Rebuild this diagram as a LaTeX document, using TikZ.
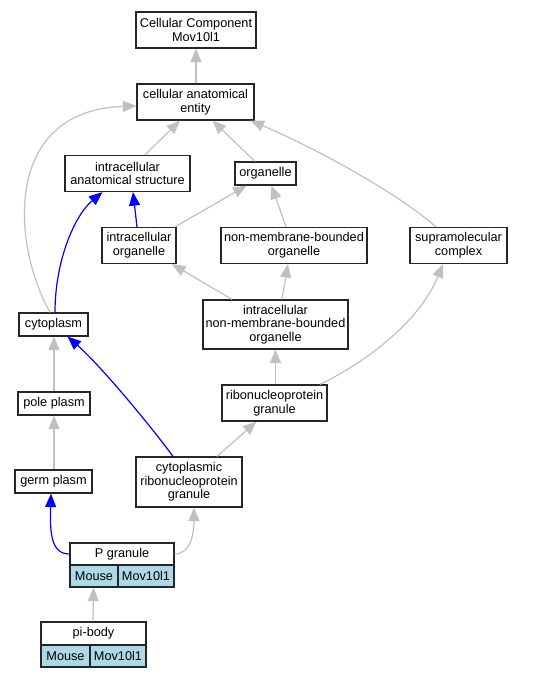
\documentclass[tikz,border=0pt]{standalone}
\usepackage{fontspec}
\setmainfont{Liberation Sans}
\usetikzlibrary{arrows.meta}
\definecolor{edgegray}{RGB}{192,192,192}
\definecolor{cellblue}{RGB}{173,216,230}
\begin{document}
\begin{tikzpicture}[x=1pt,y=-1pt,
  box/.style={draw=black!85,line width=1.2pt,fill=white,rectangle,inner sep=0pt,align=center,
    font=\fontsize{12.7}{13.6}\selectfont},
  cell/.style={box,fill=cellblue},
  gedge/.style={draw=edgegray,line width=1.2pt,-{Triangle[length=13.5pt,width=11pt]}},
  bedge/.style={draw=blue,line width=1.2pt,-{Triangle[length=13.5pt,width=11pt]}}]
\useasboundingbox (0,0) rectangle (536,677);
% nodes
\node[box,minimum width=120pt,minimum height=36pt] (cc) at (196,30) {Cellular Component\\Mov10l1};
\node[box,minimum width=117pt,minimum height=36pt] (cae) at (195.5,102) {cellular anatomical\\entity};
\node[box,minimum width=125pt,minimum height=36pt] (ias) at (127.5,173.5) {intracellular\\anatomical structure};
\node[box,minimum width=61pt,minimum height=23pt] (org) at (265.5,173.5) {organelle};
\node[box,minimum width=74pt,minimum height=36pt] (io) at (139,245.5) {intracellular\\organelle};
\node[box,minimum width=146pt,minimum height=36pt] (nmbo) at (294,245.5) {non-membrane-bounded\\organelle};
\node[box,minimum width=97pt,minimum height=36pt] (sup) at (458.5,245.5) {supramolecular\\complex};
\node[box,minimum width=69pt,minimum height=23pt] (cyto) at (53.5,324.5) {cytoplasm};
\node[box,minimum width=145pt,minimum height=49pt] (inmbo) at (275.5,324.5) {intracellular\\non-membrane-bounded\\organelle};
\node[box,minimum width=72pt,minimum height=23pt] (pp) at (54,403.5) {pole plasm};
\node[box,minimum width=105pt,minimum height=36pt] (rng) at (274.5,403) {ribonucleoprotein\\granule};
\node[box,minimum width=77pt,minimum height=23pt] (gp) at (53.5,481.5) {germ plasm};
\node[box,minimum width=106pt,minimum height=50pt] (crg) at (189,482) {cytoplasmic\\ribonucleoprotein\\granule};
\node[box,minimum width=104pt,minimum height=22pt] (pg) at (122,554) {P granule};
\node[cell,minimum width=48pt,minimum height=22pt] (pgm) at (94,576) {Mouse};
\node[cell,minimum width=56pt,minimum height=22pt] (pgg) at (146,576) {Mov10l1};
\node[box,minimum width=105pt,minimum height=23pt] (pib) at (93.5,633.5) {pi-body};
\node[cell,minimum width=49pt,minimum height=22pt] (pibm) at (65.5,656) {Mouse};
\node[cell,minimum width=56pt,minimum height=22pt] (pibg) at (118,656) {Mov10l1};
% edges
\draw[gedge] ([xshift=0.5pt]cae.north) -- (cc.south);
\draw[gedge] ([xshift=17.5pt]ias.north) -- ([xshift=-15.5pt]cae.south);
\draw[gedge] ([xshift=-10.5pt]org.north) -- ([xshift=17pt]cae.south);
\draw[gedge] ([xshift=-22.5pt]sup.north) .. controls (400,195) and (320,150) .. ([xshift=55pt]cae.south);
\draw[gedge] ([xshift=-3.5pt]cyto.north) .. controls (10,240) and (5,110) .. ([yshift=-4pt]cae.west);
\draw[bedge] ([xshift=1.5pt]cyto.north) .. controls (55,260) and (75,215) .. ([xshift=-25pt]ias.south);
\draw[bedge] ([xshift=-2pt]io.north) -- ([xshift=5.5pt]ias.south);
\draw[gedge] ([xshift=36pt]io.north) -- ([xshift=-19pt]org.south);
\draw[gedge] ([xshift=-8pt]nmbo.north) -- ([xshift=6pt]org.south);
\draw[gedge] ([xshift=-43.5pt]inmbo.north) -- ([xshift=33pt]io.south);
\draw[gedge] ([xshift=6.5pt]inmbo.north) -- ([xshift=-6pt]nmbo.south);
\draw[gedge] ([xshift=1pt]rng.north) -- (inmbo.south);
\draw[gedge] ([xshift=45.5pt]rng.north) .. controls (370,360) and (420,320) .. ([xshift=-15.5pt]sup.south);
\draw[gedge] (pp.north) -- ([xshift=0.5pt]cyto.south);
\draw[gedge] ([xshift=0.5pt]gp.north) -- (pp.south);
\draw[bedge] ([xshift=-16pt]crg.north) .. controls (150,425) and (100,365) .. ([xshift=14pt]cyto.south);
\draw[gedge] ([xshift=28pt]crg.north) -- ([xshift=-18pt]rng.south);
\draw[bedge] (pg.west) .. controls (50,554) and (50,530) .. ([xshift=-2.5pt]gp.south);
\draw[gedge] (pg.east) .. controls (190,554) and (194,535) .. ([xshift=5pt]crg.south);
\draw[gedge] ([xshift=-0.5pt]pib.north) -- (pgm.south -| pib.north);
\end{tikzpicture}
\end{document}
